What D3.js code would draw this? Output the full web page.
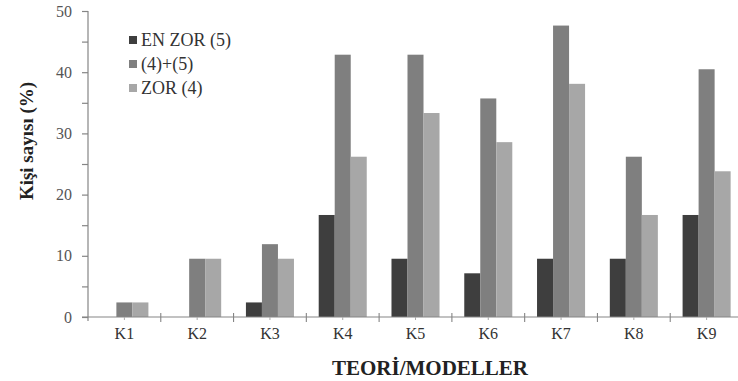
<!DOCTYPE html>
<html>
<head>
<meta charset="utf-8">
<script src="https://cdn.jsdelivr.net/npm/d3@7"></script>
<style>
  html, body { margin: 0; padding: 0; background: #fff; }
  svg { display: block; }
</style>
</head>
<body>
<div id="chart"></div>
<script>
// Categories (theories / models) and the three response series, in percent
const categories = ["K1", "K2", "K3", "K4", "K5", "K6", "K7", "K8", "K9"];
const seriesNames = ["EN ZOR (5)", "(4)+(5)", "ZOR (4)"];
const enZor5   = [0, 0, 2.38, 16.67, 9.52, 7.14, 9.52, 9.52, 16.67];
const zor4ve5  = [2.38, 9.52, 11.9, 42.86, 42.86, 35.71, 47.62, 26.19, 40.48];
const zor4     = [2.38, 9.52, 9.52, 26.19, 33.33, 28.57, 38.1, 16.67, 23.81];
const yTicks   = [0, 10, 20, 30, 40, 50];
const seriesColors = ["#3e3e3e", "#7f7f7f", "#a7a7a7"];

const FONT = '"Times New Roman", "Liberation Serif"';
const seriesValues = [enZor5, zor4ve5, zor4];
const W = 738, H = 381;
const plot = { left: 88, right: 743, top: 11, bottom: 317 };

const svg = d3.select("#chart").append("svg")
  .attr("width", W).attr("height", H);

const x0 = d3.scaleBand()
  .domain(categories)
  .range([plot.left, plot.right])
  .paddingInner(0.34)
  .paddingOuter(0.17);

const x1 = d3.scaleBand()
  .domain(seriesNames)
  .range([0, x0.bandwidth()]);

const y = d3.scaleLinear().domain([0, 50]).range([plot.bottom, plot.top]);

// Bars
const rows = categories.map((c, i) => ({
  cat: c,
  vals: seriesNames.map((s, j) => ({ s, j, v: seriesValues[j][i] }))
}));

const groups = svg.append("g").selectAll("g").data(rows).join("g")
  .attr("transform", d => `translate(${x0(d.cat)},0)`);

groups.selectAll("rect").data(d => d.vals).join("rect")
  .attr("x", d => x1(d.s))
  .attr("width", x1.bandwidth())
  .attr("y", d => y(d.v))
  .attr("height", d => y(0) - y(d.v))
  .attr("fill", d => seriesColors[d.j]);

// Y axis: labelled ticks every 10, minor ticks every 5
const axisColor = "#858585";
const yAxis = svg.append("g").attr("transform", `translate(${plot.left},0)`)
  .call(d3.axisLeft(y).tickValues(d3.range(0, 51, 5)).tickSize(6).tickPadding(10)
    .tickFormat(d => yTicks.includes(d) ? d : ""));
yAxis.attr("font-family", null);
yAxis.select(".domain").attr("stroke", axisColor).attr("stroke-width", 1.2)
  .attr("d", `M0,${plot.top}V${plot.bottom + 4}`);
yAxis.selectAll(".tick line").attr("stroke", axisColor).attr("stroke-width", 1.2);
yAxis.selectAll(".tick text")
  .style("font-family", FONT)
  .attr("font-size", 16).attr("fill", "#555");

// X axis line with crossing boundary ticks and small centre ticks
const xAxis = svg.append("g");
xAxis.append("line")
  .attr("x1", plot.left - 6).attr("x2", plot.right)
  .attr("y1", plot.bottom).attr("y2", plot.bottom)
  .attr("stroke", axisColor).attr("stroke-width", 1.2);
const step = x0.step();
xAxis.selectAll("line.b").data(categories.slice(1)).join("line")
  .attr("class", "b")
  .attr("x1", d => x0(d) - (step - x0.bandwidth()) / 2)
  .attr("x2", d => x0(d) - (step - x0.bandwidth()) / 2)
  .attr("y1", plot.bottom - 4).attr("y2", plot.bottom + 5)
  .attr("stroke", axisColor).attr("stroke-width", 1.1);
xAxis.selectAll("line.c").data(categories).join("line")
  .attr("class", "c")
  .attr("x1", d => x0(d) + x0.bandwidth() / 2)
  .attr("x2", d => x0(d) + x0.bandwidth() / 2)
  .attr("y1", plot.bottom).attr("y2", plot.bottom + 3)
  .attr("stroke", "#aaa").attr("stroke-width", 1);
xAxis.selectAll("text").data(categories).join("text")
  .attr("x", d => x0(d) + x0.bandwidth() / 2)
  .attr("y", 339)
  .attr("text-anchor", "middle")
  .style("font-family", FONT)
  .attr("font-size", 16).attr("fill", "#333")
  .text(d => d);

// Axis titles
svg.append("text")
  .attr("x", 430).attr("y", 375)
  .attr("text-anchor", "middle")
  .style("font-family", FONT)
  .attr("font-size", 21).attr("font-weight", "bold").attr("fill", "#222")
  .text("TEORİ/MODELLER");

svg.append("text")
  .attr("transform", "translate(26,141) rotate(-90)")
  .attr("text-anchor", "middle")
  .attr("dominant-baseline", "central")
  .style("font-family", FONT)
  .attr("font-size", 19).attr("font-weight", "bold").attr("fill", "#222")
  .text("Kişi sayısı (%)");

// Legend
const legend = svg.append("g").selectAll("g").data(seriesNames).join("g")
  .attr("transform", (d, i) => `translate(129,${40 + i * 24})`);
legend.append("rect")
  .attr("x", 0).attr("y", -4).attr("width", 8).attr("height", 8)
  .attr("fill", (d, i) => seriesColors[i]);
legend.append("text")
  .attr("x", 12).attr("y", 0)
  .attr("dominant-baseline", "central")
  .style("font-family", FONT)
  .attr("font-size", 18).attr("fill", "#333")
  .text(d => d);
</script>
</body>
</html>
